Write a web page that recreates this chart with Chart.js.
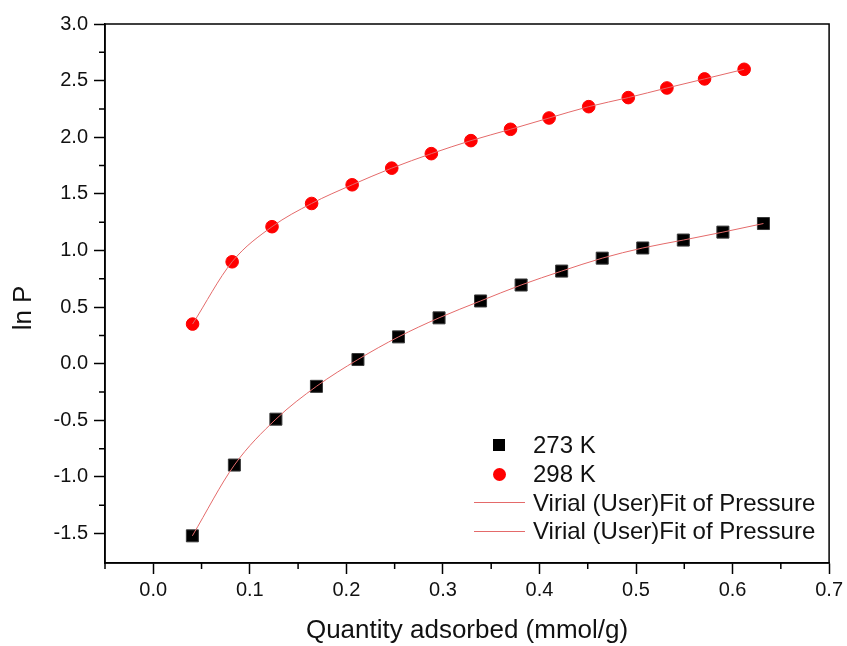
<!DOCTYPE html>
<html>
<head>
<meta charset="utf-8">
<title>ln P vs quantity adsorbed</title>
<script src="https://cdn.jsdelivr.net/npm/chart.js@4.4.0/dist/chart.umd.min.js"></script>
<style>
  body { margin: 0; background: #fff; }
  #wrap { position: relative; width: 847px; height: 646px; }
  #legend { position: absolute; left: 473px; top: 431px; font: 24px Arial, 'Liberation Sans', sans-serif; color: #111; }
  .row { display: flex; align-items: center; height: 28.7px; white-space: nowrap; }
  .sym { width: 52px; height: 20px; margin-right: 8px; display: flex; justify-content: center; align-items: center; }
</style>
</head>
<body>
<div id="wrap">
  <canvas id="chart" width="847" height="646"></canvas>
  <div id="legend"></div>
</div>
<script>
/* virial plot: ln P against uptake at two temperatures */
const x273 = [0.0405, 0.084, 0.127, 0.169, 0.212, 0.254, 0.296, 0.339, 0.381, 0.423, 0.465, 0.507, 0.549, 0.590, 0.632];
const y273 = [-1.52, -0.895, -0.49, -0.20, 0.037, 0.237, 0.405, 0.554, 0.695, 0.818, 0.932, 1.022, 1.092, 1.162, 1.238];
const x298 = [0.0407, 0.0817, 0.123, 0.164, 0.206, 0.247, 0.288, 0.329, 0.370, 0.410, 0.451, 0.492, 0.532, 0.571, 0.612];
const y298 = [0.35, 0.90, 1.21, 1.415, 1.58, 1.727, 1.855, 1.97, 2.07, 2.17, 2.27, 2.35, 2.435, 2.515, 2.60];

const xTicks = [0.0, 0.1, 0.2, 0.3, 0.4, 0.5, 0.6, 0.7];
const yTicks = [-1.5, -1.0, -0.5, 0.0, 0.5, 1.0, 1.5, 2.0, 2.5, 3.0];
const xMinor = [-0.05, 0.05, 0.15, 0.25, 0.35, 0.45, 0.55, 0.65];
const yMinor = [-1.25, -0.75, -0.25, 0.25, 0.75, 1.25, 1.75, 2.25, 2.75];

const seriesNames = ['273 K', '298 K'];
const fitName = 'Virial (User)Fit of Pressure';

const FONT = "Arial, 'Liberation Sans', sans-serif";
const TEXT = '#111';
const FIT_COLOR = '#e46a6a';

function pts(xs, ys) {
  return xs.map((x, i) => ({ x: x, y: ys[i] }));
}

// frame on top/right and the short minor ticks
const framePlugin = {
  id: 'frame',
  afterDraw(chart) {
    const { ctx, chartArea: a, scales } = chart;
    ctx.save();
    ctx.strokeStyle = '#000';
    ctx.lineWidth = 1.5;
    ctx.strokeRect(a.left, a.top, a.right - a.left, a.bottom - a.top);
    ctx.beginPath();
    xMinor.forEach(v => {
      const px = scales.x.getPixelForValue(v);
      ctx.moveTo(px, a.bottom);
      ctx.lineTo(px, a.bottom + 6);
    });
    yMinor.forEach(v => {
      const py = scales.y.getPixelForValue(v);
      ctx.moveTo(a.left, py);
      ctx.lineTo(a.left - 6, py);
    });
    ctx.stroke();
    ctx.restore();
  }
};

new Chart(document.getElementById('chart'), {
  type: 'scatter',
  data: {
    datasets: [
      { label: fitName, data: pts(x273, y273), showLine: true, pointRadius: 0, borderColor: FIT_COLOR, borderWidth: 1, cubicInterpolationMode: 'monotone', order: 0 },
      { label: fitName, data: pts(x298, y298), showLine: true, pointRadius: 0, borderColor: FIT_COLOR, borderWidth: 1, cubicInterpolationMode: 'monotone', order: 0 },
      { label: seriesNames[0], data: pts(x273, y273), pointStyle: 'rect', pointRadius: 8.5, backgroundColor: '#000', borderColor: '#3a3a3a', borderWidth: 1, order: 1 },
      { label: seriesNames[1], data: pts(x298, y298), pointStyle: 'circle', pointRadius: 6.3, backgroundColor: '#ff0000', borderColor: '#ff0000', borderWidth: 1, order: 1 }
    ]
  },
  options: {
    responsive: false,
    animation: false,
    layout: { padding: { top: 24, right: 17, left: 0, bottom: 0 } },
    plugins: { legend: { display: false }, tooltip: { enabled: false } },
    scales: {
      x: {
        type: 'linear', min: -0.05, max: 0.7,
        afterBuildTicks: s => { s.ticks = xTicks.map(v => ({ value: v })); },
        afterFit: s => { s.height = 83; },
        ticks: { callback: v => v.toFixed(1), color: TEXT, font: { family: FONT, size: 20 }, padding: 4, maxRotation: 0, autoSkip: false },
        grid: { drawOnChartArea: false, tickLength: 11, tickColor: '#000', tickWidth: 1.5 },
        border: { color: '#000', width: 1.5 },
        title: { display: true, text: 'Quantity adsorbed (mmol/g)', color: TEXT, font: { family: FONT, size: 26 }, padding: { top: 0, bottom: 0 } }
      },
      y: {
        type: 'linear', min: -1.76, max: 3.0,
        afterBuildTicks: s => { s.ticks = yTicks.map(v => ({ value: v })); },
        afterFit: s => { s.width = 105; },
        ticks: { callback: v => v.toFixed(1), color: TEXT, font: { family: FONT, size: 20 }, padding: 6, autoSkip: false },
        grid: { drawOnChartArea: false, tickLength: 11, tickColor: '#000', tickWidth: 1.5 },
        border: { color: '#000', width: 1.5 },
        // trailing spaces push the rotated title a bit lower, as in the original
        title: { display: true, text: 'ln P\u00a0\u00a0\u00a0\u00a0', color: TEXT, font: { family: FONT, size: 26 }, padding: { top: 8, bottom: 0 } }
      }
    }
  },
  plugins: [framePlugin]
});

// legend inside the plot, bottom right
const legendItems = [
  { text: seriesNames[0], sym: '<div style="width:12px;height:12px;background:#000"></div>' },
  { text: seriesNames[1], sym: '<div style="width:13px;height:13px;border-radius:50%;background:#ff0000"></div>' },
  { text: fitName, sym: '<div style="width:51px;height:1px;background:' + FIT_COLOR + '"></div>' },
  { text: fitName, sym: '<div style="width:51px;height:1px;background:' + FIT_COLOR + '"></div>' }
];
document.getElementById('legend').innerHTML = legendItems.map(it =>
  `<div class="row"><div class="sym">${it.sym}</div><span>${it.text}</span></div>`
).join('');
</script>
</body>
</html>
